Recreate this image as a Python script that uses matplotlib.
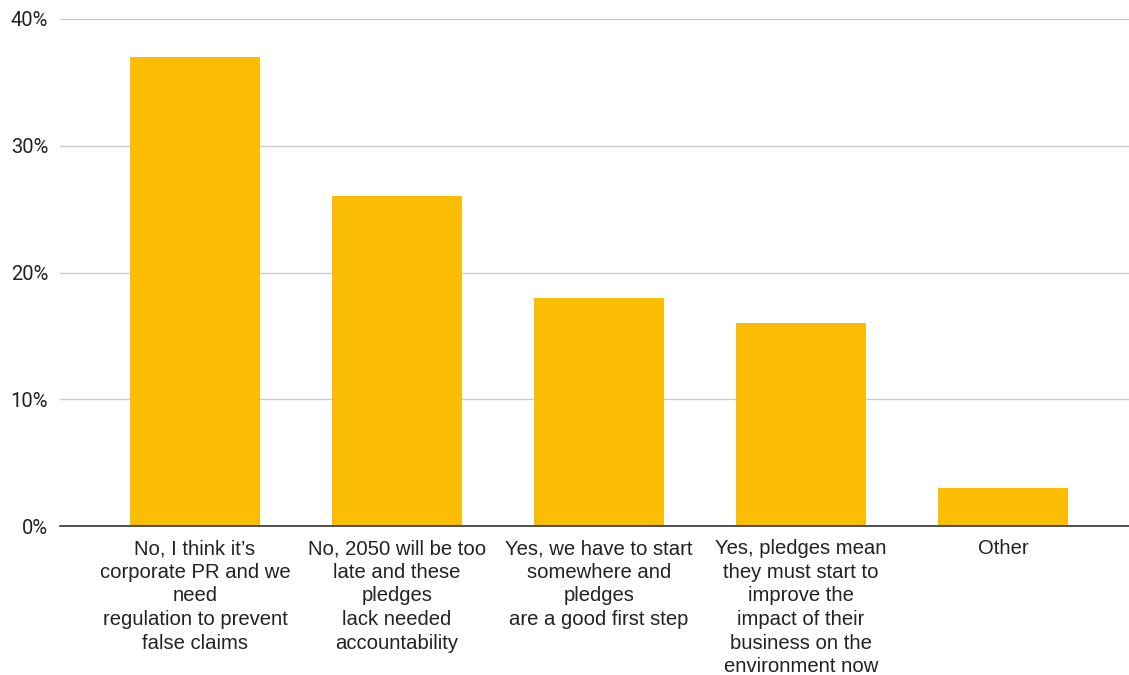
import matplotlib
matplotlib.use("Agg")
import matplotlib.pyplot as plt
from matplotlib.ticker import FuncFormatter

categories = [
    "No, I think it\u2019s\ncorporate PR and we\nneed\nregulation to prevent\nfalse claims",
    "No, 2050 will be too\nlate and these\npledges\nlack needed\naccountability",
    "Yes, we have to start\nsomewhere and\npledges\nare a good first step",
    "Yes, pledges mean\nthey must start to\nimprove the\nimpact of their\nbusiness on the\nenvironment now",
    "Other",
]
shares = [37, 26, 18, 16, 3]
yticks = [0, 10, 20, 30, 40]

BAR = "#FBBC04"
TXT = "#222222"

fig = plt.figure(figsize=(11.29, 6.75), dpi=100)
ax = fig.add_axes([60 / 1129, 1 - 526 / 675, 1 - 60 / 1129, (526 - 19) / 675])

x = list(range(len(categories)))
ax.bar(x, shares, width=0.644, color=BAR, zorder=3)

ax.set_xlim(-0.668, 4.624)
ax.set_ylim(0, 40)
ax.set_yticks(yticks)
ax.yaxis.set_major_formatter(FuncFormatter(lambda v, _: f"{v:.0f}%"))
ax.grid(axis="y", color="#cccccc", linewidth=1, zorder=0)

ax.set_xticks(x)
ax.set_xticklabels(categories, fontsize=14.6, family="Liberation Sans",
                   color=TXT, linespacing=1.31)
for lab in ax.get_yticklabels():
    lab.set_fontfamily("Roboto")
    lab.set_fontsize(14.5)
    lab.set_color(TXT)

ax.tick_params(axis="both", length=0)
ax.tick_params(axis="y", pad=8.6)
ax.tick_params(axis="x", pad=9.5)

for side in ("top", "right", "left"):
    ax.spines[side].set_visible(False)
ax.spines["bottom"].set_color("#333333")
ax.spines["bottom"].set_linewidth(1.2)
ax.spines["bottom"].set_zorder(4)

fig.savefig("out.png", dpi=100)
